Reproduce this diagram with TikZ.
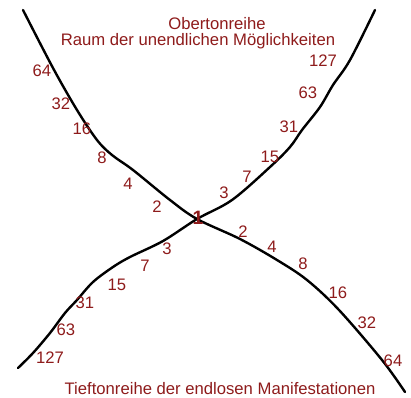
\documentclass[tikz,border=0pt]{standalone}
\usepackage{fontspec}
\setmainfont{Liberation Sans}
\usepackage{xcolor}
\usepackage{tikz}
\definecolor{TonRed}{HTML}{8E1B1B}

\begin{document}
\begin{tikzpicture}[x=0.75pt, y=-0.75pt]
    \tikzstyle{series} = [draw=black, line width=1.8pt, line join=round, line cap=round]
    \tikzstyle{num} = [text=TonRed, font=\fontsize{12.5}{14}\selectfont, inner sep=0pt]
    \tikzstyle{heading} = [text=TonRed, font=\fontsize{12.5}{14}\selectfont, inner sep=0pt, anchor=base]
    \useasboundingbox (0,0) rectangle (411,397);

    \coordinate (one) at (197,219);

    % Obertonreihe und Tieftonreihe
    \draw [series] plot [smooth, tension=0.55] coordinates {(23,10) (53,68) (77,110) (97,140) (112,155) (133,170) (170,200) (one) (240,239) (277,260) (307,280) (339,310) (382,360) (405,392)};
    \draw [series] plot [smooth, tension=0.55] coordinates {(375,10) (350,60) (333,85) (320,107) (302,130) (290,147) (270,167) (232,200) (one) (163,241) (130,257) (113,267) (93,282) (77,300) (65,313) (50,333) (33,353) (18,368)};

    \node [heading] (ober) at (217,29) {Obertonreihe};
    \node [heading] (raum) at (198,45) {Raum der unendlichen Möglichkeiten};
    \node [heading] (tief) at (220,394) {Tieftonreihe der endlosen Manifestationen};

    \node [text=TonRed, font=\fontsize{14.5}{16}\selectfont\bfseries, inner sep=0pt] (eins) at (198,218) {1};

    % links oben
    \node [num] (lo64) at (42,71) {64};
    \node [num] (lo32) at (61,104) {32};
    \node [num] (lo16) at (82,129) {16};
    \node [num] (lo8) at (102,158) {8};
    \node [num] (lo4) at (128,184) {4};
    \node [num] (lo2) at (157,207) {2};
    % rechts unten
    \node [num] (ru2) at (243,232) {2};
    \node [num] (ru4) at (272,247) {4};
    \node [num] (ru8) at (303,264) {8};
    \node [num] (ru16) at (338,293) {16};
    \node [num] (ru32) at (367,323) {32};
    \node [num] (ru64) at (393,361) {64};
    % rechts oben
    \node [num] (ro3) at (224,193) {3};
    \node [num] (ro7) at (247,177) {7};
    \node [num] (ro15) at (270,157) {15};
    \node [num] (ro31) at (289,127) {31};
    \node [num] (ro63) at (308,93) {63};
    \node [num] (ro127) at (323,61) {127};
    % links unten
    \node [num] (lu3) at (167,249) {3};
    \node [num] (lu7) at (145,266) {7};
    \node [num] (lu15) at (117,285) {15};
    \node [num] (lu31) at (85,303) {31};
    \node [num] (lu63) at (66,330) {63};
    \node [num] (lu127) at (50,358) {127};
\end{tikzpicture}
\end{document}
